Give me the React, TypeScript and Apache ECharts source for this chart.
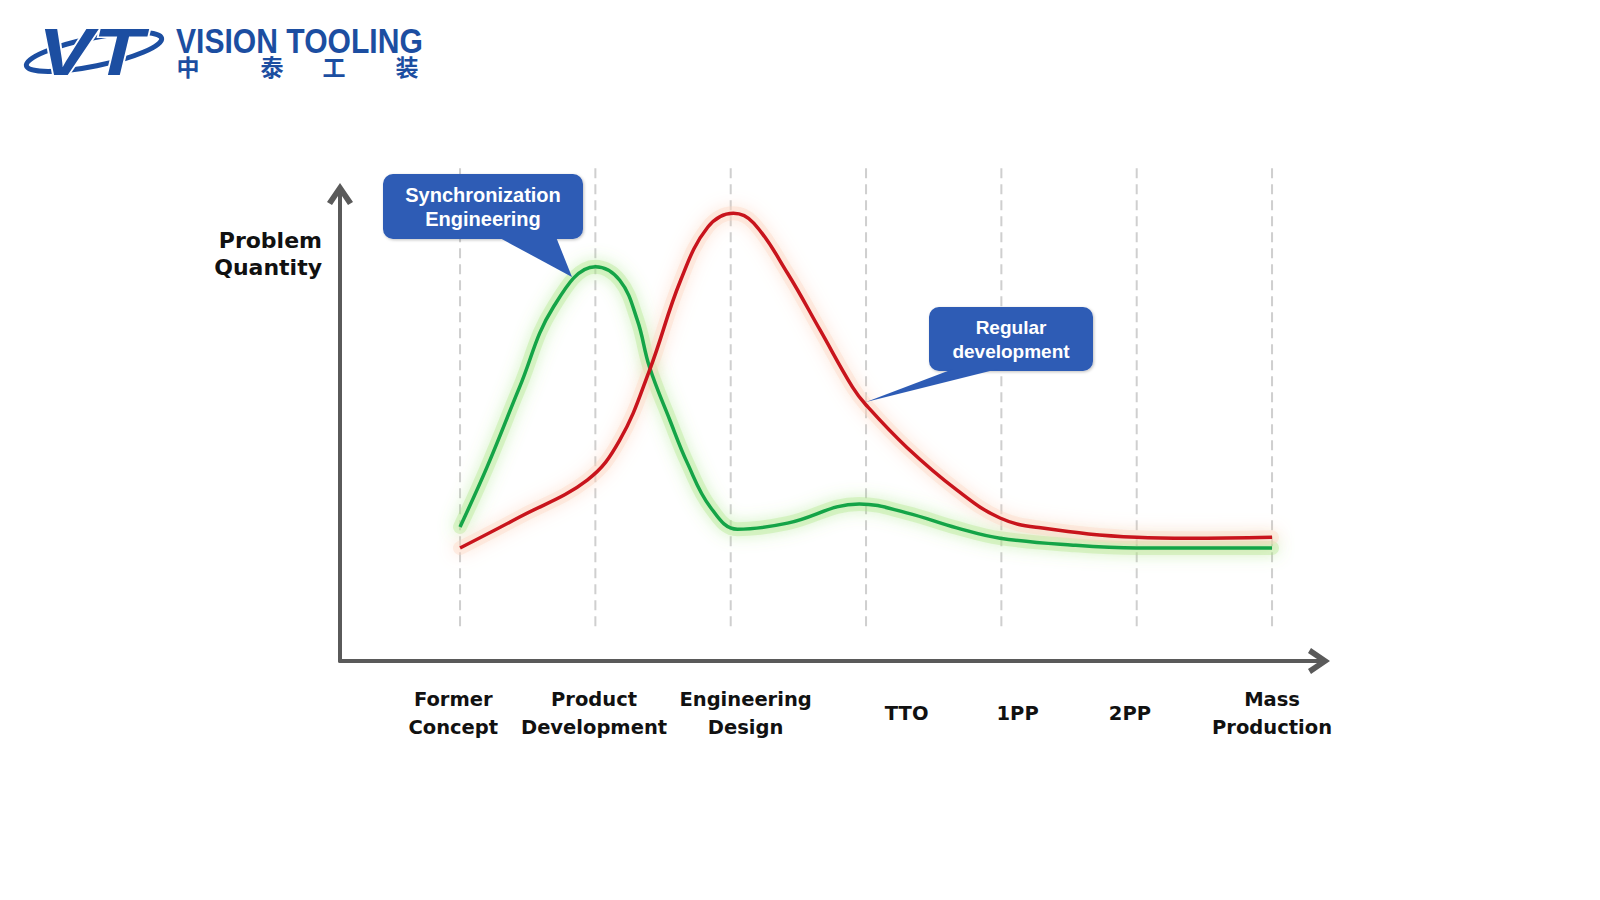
import React, { useEffect, useRef } from 'react';
import * as echarts from 'echarts';

// ---------- data ----------
const stageLabels = ['Former\nConcept', 'Product\nDevelopment', 'Engineering\nDesign', 'TTO', '1PP', '2PP', 'Mass\nProduction'];
const stageGridPositions = [0, 1, 2, 3, 4, 5, 6];
const stageLabelPositions = [-0.05, 0.99, 2.11, 3.3, 4.12, 4.95, 6.0];

const syncEngineering: [number, number][] = [
  [0, 28.6], [0.2, 41.4], [0.44, 58.4], [0.69, 75.5], [1.0, 84.1], [1.18, 81.2],
  [1.31, 72.7], [1.4, 62.7], [1.55, 51.4], [1.68, 42.2], [1.85, 32.8], [2.05, 28.1],
  [2.42, 29.4], [2.95, 33.5], [3.3, 31.6], [3.67, 28.4], [3.99, 26.2], [4.53, 24.7],
  [5.0, 24.1], [6.0, 24.1],
];
const regularDevelopment: [number, number][] = [
  [0, 24.1], [0.44, 30.7], [0.94, 38.6], [1.18, 47.1], [1.4, 62.0], [1.63, 81.2],
  [1.83, 92.5], [2.02, 95.5], [2.17, 93.4], [2.42, 82.7], [2.66, 70.6], [2.9, 58.4],
  [3.0, 54.6], [3.3, 45.6], [3.67, 36.5], [3.99, 30.5], [4.29, 28.4], [5.0, 26.4],
  [5.39, 26.2], [6.0, 26.4],
];

const yAxisName = 'Problem\nQuantity';
const syncCalloutText = 'Synchronization\nEngineering';
const regularCalloutText = 'Regular\ndevelopment';
const logoMark = 'VT';
const logoLatin = 'VISION TOOLING';
const logoChars = ['中', '泰', '工', '装'];

// ---------- styles ----------
const BLUE_LOGO = '#1c4ea1';
const BLUE_BOX = '#2e5cb5';
const AXIS = '#5a5a5a';
const arrowPath = 'path://M0,19 L13,0 L26,19 L21,22 L13,10 L5,22 Z';
const gridTopVal = 105.1;
const gridBottomVal = 6.6;

function nearestIndex(v: number) {
  let best = 0;
  let d = Infinity;
  stageLabelPositions.forEach((p, i) => {
    const dd = Math.abs(p - v);
    if (dd < d) { d = dd; best = i; }
  });
  return best;
}

function callout(text: string, box: { x: number; y: number; w: number; h: number }, tail: number[][], fontSize: number, lh: number) {
  return {
    type: 'group',
    z: 50,
    children: [
      {
        type: 'rect',
        z: 50,
        shape: { x: box.x, y: box.y, width: box.w, height: box.h, r: 10 },
        style: { fill: BLUE_BOX, shadowBlur: 3, shadowColor: 'rgba(0,0,0,0.25)', shadowOffsetX: 1, shadowOffsetY: 1 },
      },
      { type: 'polygon', z: 50, shape: { points: tail }, style: { fill: BLUE_BOX } },
      {
        type: 'text',
        z: 51,
        x: box.x + box.w / 2,
        y: box.y + box.h / 2,
        style: {
          text,
          x: 0,
          y: 0,
          fill: '#ffffff',
          font: `bold ${fontSize}px "Liberation Sans", Arial, sans-serif`,
          align: 'center',
          textAlign: 'center',
          verticalAlign: 'middle',
          textVerticalAlign: 'middle',
          lineHeight: lh,
        },
      },
    ],
  };
}

function glowSeries(data: [number, number][], color: string, blurColor: string) {
  return {
    type: 'line',
    data,
    smooth: 0.4,
    symbol: 'none',
    silent: true,
    z: 2,
    lineStyle: { color, width: 14, cap: 'round', join: 'round', shadowBlur: 16, shadowColor: blurColor },
  };
}

export default function App() {
  const ref = useRef<HTMLDivElement>(null);

  useEffect(() => {
    if (!ref.current) return;
    const chart = echarts.init(ref.current, undefined, { renderer: 'svg' });
    const labelFont = { fontFamily: '"DejaVu Sans", sans-serif', fontWeight: 'bold' as const, color: '#111111' };

    const option: any = {
      animation: false,
      backgroundColor: '#ffffff',
      grid: { left: 340, right: 281, top: 194, bottom: 239, containLabel: false },
      xAxis: {
        type: 'value',
        min: -0.887,
        max: 6.347,
        axisLine: { show: true, onZero: false, lineStyle: { color: AXIS, width: 4 }, symbol: ['none', arrowPath], symbolSize: [26, 22] },
        axisTick: { show: false },
        splitLine: { show: false },
        axisLabel: {
          show: true,
          customValues: stageLabelPositions,
          formatter: (v: number) => stageLabels[nearestIndex(v)],
          ...labelFont,
          fontSize: 19.5,
          lineHeight: 28,
          align: 'center',
          verticalAlign: 'middle',
          margin: 52,
          showMinLabel: true,
          showMaxLabel: true,
        },
      },
      yAxis: {
        type: 'value',
        min: 0,
        max: 99.6,
        axisLine: { show: true, onZero: false, lineStyle: { color: AXIS, width: 4 }, symbol: ['none', arrowPath], symbolSize: [26, 22] },
        axisTick: { show: false },
        axisLabel: { show: false },
        splitLine: { show: false },
        name: yAxisName,
        nameLocation: 'end',
        nameGap: -60,
        nameTextStyle: {
          ...labelFont,
          fontSize: 22,
          lineHeight: 27,
          align: 'right',
          verticalAlign: 'middle',
          padding: [0, 18, 0, 0],
        },
      },
      series: [
        {
          type: 'custom',
          name: 'stages',
          silent: true,
          z: 1,
          data: stageGridPositions.map((v) => [v, 0]),
          encode: { x: 0, y: 1 },
          renderItem: (params: any, api: any) => {
            const x = api.value(0);
            const p1 = api.coord([x, gridTopVal]);
            const p2 = api.coord([x, gridBottomVal]);
            return {
              type: 'line',
              shape: { x1: p1[0], y1: p1[1], x2: p2[0], y2: p2[1] },
              style: { stroke: '#cfcfcf', lineWidth: 2, lineDash: [10, 6] },
            };
          },
        },
        glowSeries(syncEngineering, 'rgba(175,232,140,0.38)', 'rgba(140,222,100,0.95)'),
        glowSeries(regularDevelopment, 'rgba(252,214,195,0.4)', 'rgba(250,195,165,0.95)'),
        {
          type: 'line',
          name: 'Synchronization Engineering',
          data: syncEngineering,
          smooth: 0.4,
          symbol: 'none',
          z: 3,
          lineStyle: { color: '#14a447', width: 3.5 },
        },
        {
          type: 'line',
          name: 'Regular development',
          data: regularDevelopment,
          smooth: 0.4,
          symbol: 'none',
          z: 4,
          lineStyle: { color: '#c8141c', width: 3.5 },
        },
      ],
      graphic: [
        // logo
        {
          type: 'ellipse',
          x: 94,
          y: 52,
          rotation: 0.2,
          shape: { cx: 0, cy: 0, rx: 69, ry: 14 },
          style: { fill: 'none', stroke: BLUE_LOGO, lineWidth: 5 },
          z: 10,
        },
        {
          type: 'text',
          x: 38,
          y: 52,
          scaleX: 1.25,
          z: 11,
          style: {
            text: logoMark,
            x: 0,
            y: 0,
            fill: BLUE_LOGO,
            stroke: '#ffffff',
            lineWidth: 3,
            font: 'italic bold 66px "Liberation Sans", Arial, sans-serif',
            align: 'left',
            textAlign: 'left',
            verticalAlign: 'middle',
            textVerticalAlign: 'middle',
          },
        },
        {
          type: 'text',
          x: 176,
          y: 41,
          scaleX: 0.86,
          z: 11,
          style: {
            text: logoLatin,
            x: 0,
            y: 0,
            fill: BLUE_LOGO,
            font: 'bold 35px "Liberation Sans", Arial, sans-serif',
            align: 'left',
            textAlign: 'left',
            verticalAlign: 'middle',
            textVerticalAlign: 'middle',
          },
        },
        ...logoChars.map((c, i) => ({
          type: 'text',
          x: [188, 272, 334, 407][i],
          y: 66,
          z: 11,
          style: {
            text: c,
            x: 0,
            y: 0,
            fill: BLUE_LOGO,
            font: 'bold 23px "Noto Sans CJK SC", sans-serif',
            align: 'center',
            textAlign: 'center',
            verticalAlign: 'middle',
            textVerticalAlign: 'middle',
          },
        })),
        // callouts
        callout(syncCalloutText, { x: 383, y: 174, w: 200, h: 65 }, [[498, 237], [556, 237], [572, 277]], 20, 24),
        callout(regularCalloutText, { x: 929, y: 307, w: 164, h: 64 }, [[953, 369], [998, 369], [866, 402]], 19, 24),
      ],
    };

    chart.setOption(option);
    return () => chart.dispose();
  }, []);

  return <div ref={ref} style={{ position: 'absolute', left: 0, top: 0, width: 1600, height: 900 }} />;
}
